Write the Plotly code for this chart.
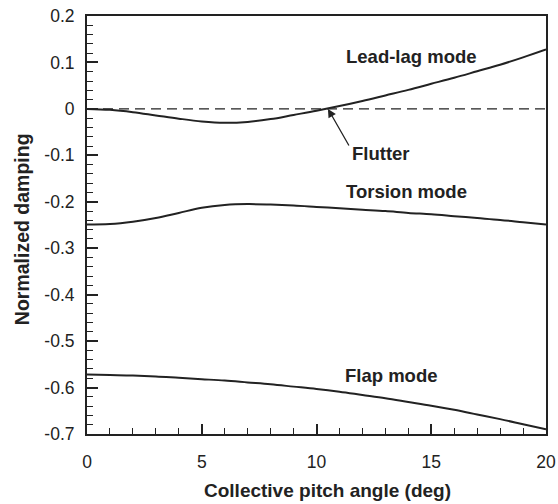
import plotly.graph_objects as go

pitch = [0, 1, 2, 3, 4, 5, 6, 7, 8, 9, 10, 11, 12, 13, 14, 15, 16, 17, 18, 19, 20]
lead_lag = [0.0, -0.002, -0.007, -0.014, -0.021, -0.027, -0.030, -0.028, -0.022, -0.013,
            -0.004, 0.006, 0.017, 0.029, 0.041, 0.054, 0.067, 0.081, 0.095, 0.111, 0.128]
torsion = [-0.249, -0.248, -0.243, -0.235, -0.224, -0.213, -0.207, -0.205, -0.206, -0.208,
           -0.211, -0.214, -0.217, -0.220, -0.224, -0.227, -0.231, -0.235, -0.239, -0.244, -0.249]
flap = [-0.572, -0.573, -0.574, -0.576, -0.579, -0.582, -0.585, -0.589, -0.593, -0.598,
        -0.603, -0.609, -0.616, -0.623, -0.631, -0.639, -0.648, -0.658, -0.668, -0.679, -0.690]
zero_x = [0, 20]
zero_y = [0, 0]
y_ticks = [-0.7, -0.6, -0.5, -0.4, -0.3, -0.2, -0.1, 0, 0.1, 0.2]
y_tick_text = ["-0.7", "-0.6", "-0.5", "-0.4", "-0.3", "-0.2", "-0.1", "0", "0.1", "0.2"]

FONT = "Liberation Sans, Arial, sans-serif"
INK = "#222"

fig = go.Figure()
fig.add_trace(go.Scatter(x=zero_x, y=zero_y, mode="lines",
                         line=dict(color=INK, width=1.3, dash="10px,6px")))
for series in (lead_lag, torsion, flap):
    fig.add_trace(go.Scatter(x=pitch, y=series, mode="lines",
                             line=dict(color=INK, width=2, shape="spline")))

lab_font = dict(family=FONT, size=18.5, color=INK)
fig.add_annotation(x=14.12, y=0.112, text="<b>Lead-lag mode</b>", showarrow=False, font=lab_font)
fig.add_annotation(x=13.92, y=-0.178, text="<b>Torsion mode</b>", showarrow=False, font=lab_font)
fig.add_annotation(x=13.27, y=-0.575, text="<b>Flap mode</b>", showarrow=False, font=lab_font)
fig.add_annotation(x=10.5, y=0.0, ax=11.45, ay=-0.082, xref="x", yref="y", axref="x", ayref="y",
                   text="", showarrow=True, arrowhead=2, arrowsize=1.3, arrowwidth=1.3,
                   arrowcolor=INK)
fig.add_annotation(x=11.46, y=-0.097, text="<b>Flutter</b>", showarrow=False, xanchor="left",
                   font=lab_font)

# axis titles
fig.add_annotation(xref="paper", yref="paper", x=0.524, y=-0.134, xanchor="center", yanchor="middle",
                   text="<b>Collective pitch angle (deg)</b>", showarrow=False,
                   font=dict(family=FONT, size=19, color=INK))
fig.add_annotation(xref="paper", yref="paper", x=-0.1416, y=0.49, xanchor="center", yanchor="middle",
                   text="<b>Normalized damping</b>", showarrow=False, textangle=-90,
                   font=dict(family=FONT, size=19.5, color=INK))

tick_font = dict(family=FONT, size=17.5, color=INK)
fig.update_xaxes(range=[0, 20], tick0=0, dtick=5, ticks="inside", ticklen=10, tickwidth=1.5,
                 tickcolor=INK, showline=True, linecolor=INK, linewidth=2, mirror=True,
                 showgrid=False, zeroline=False, tickfont=tick_font, ticklabelstandoff=11,
                 automargin=False,
                 minor=dict(dtick=1, ticks="inside", ticklen=6, tickwidth=1.3, tickcolor=INK, showgrid=False))
fig.update_yaxes(range=[-0.7, 0.2], ticks="inside", ticklen=11, tickwidth=1.5,
                 tickcolor=INK, showline=True, linecolor=INK, linewidth=2, mirror=True,
                 showgrid=False, zeroline=False, tickfont=tick_font, ticklabelstandoff=7,
                 automargin=False, tickvals=y_ticks, ticktext=y_tick_text,
                 minor=dict(dtick=0.02, tick0=0, ticks="inside", ticklen=6, tickwidth=1.3, tickcolor=INK, showgrid=False))
fig.update_layout(width=558, height=504, margin=dict(l=87, r=12, t=16, b=70),
                  plot_bgcolor="white", paper_bgcolor="white", showlegend=False)
fig.write_html("out.html")
